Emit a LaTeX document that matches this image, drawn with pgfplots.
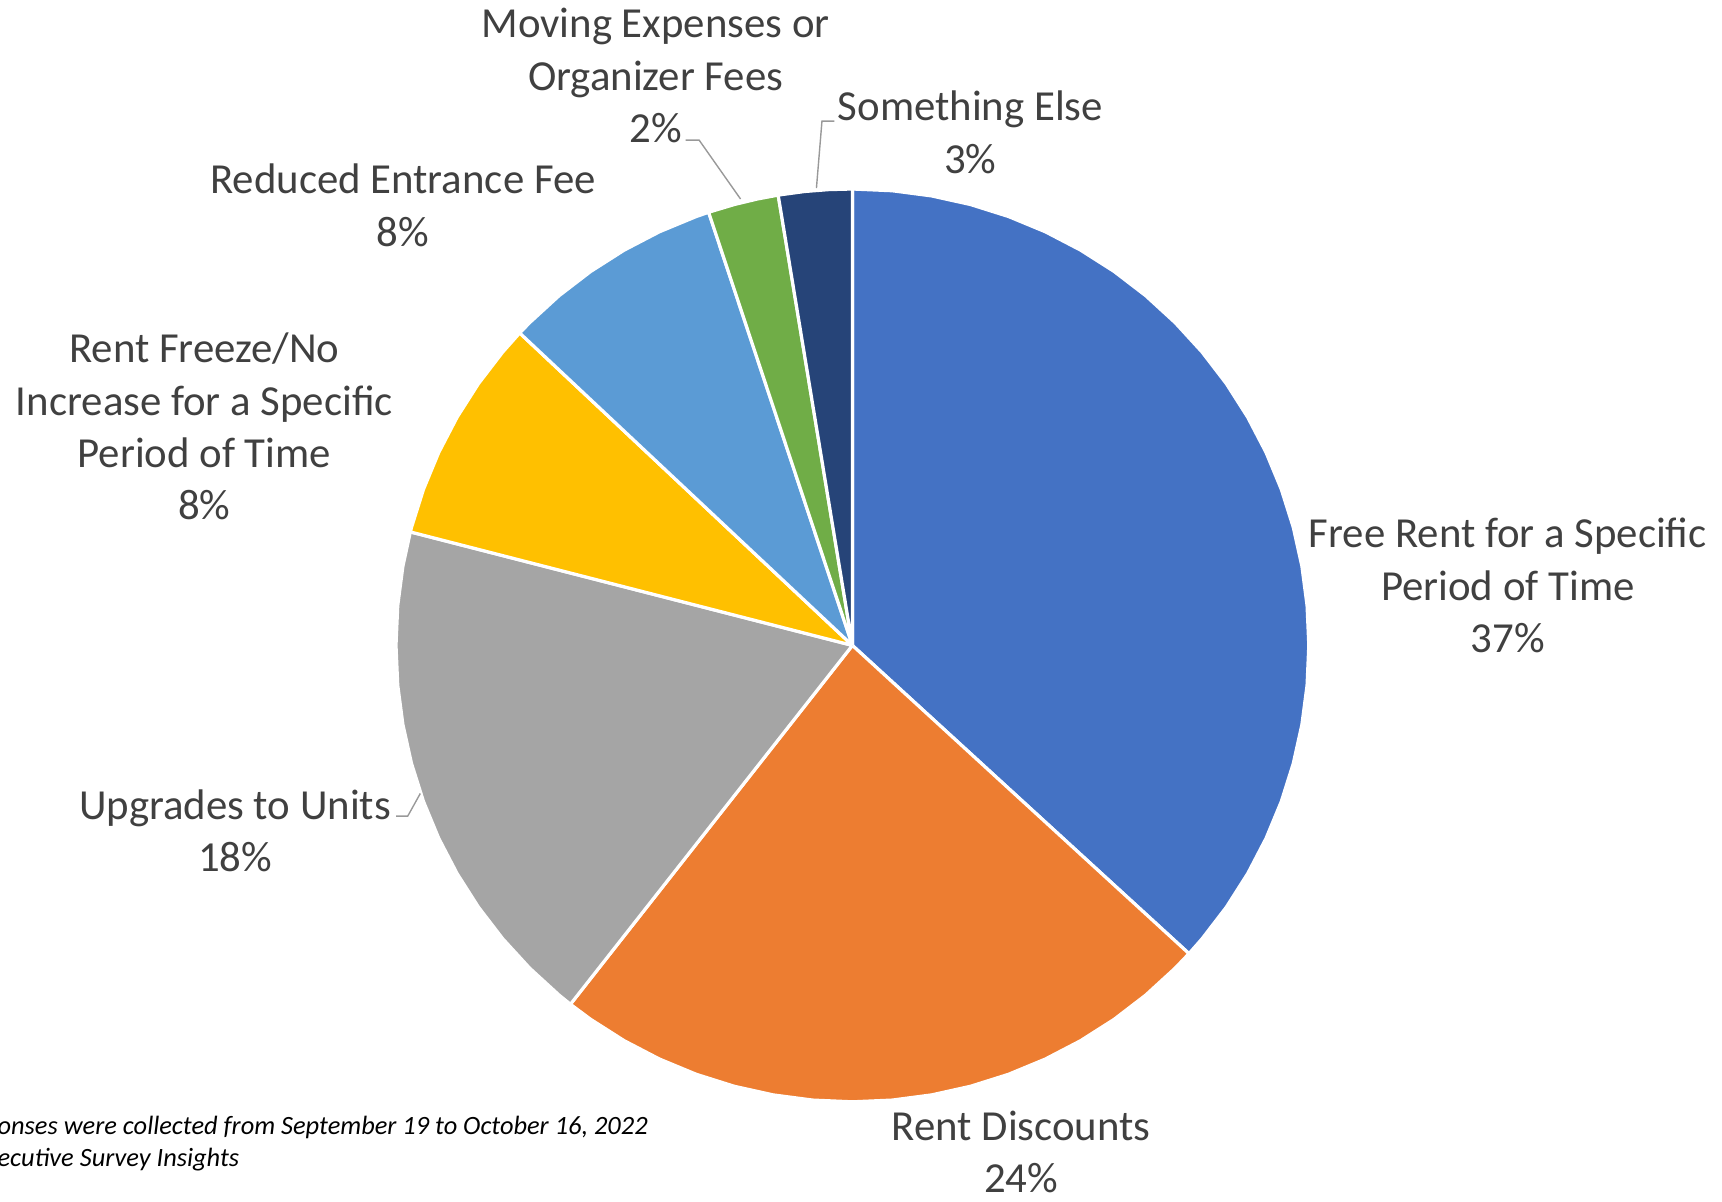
\documentclass[border=0pt]{standalone}
\usepackage{fontspec}
\setmainfont{Carlito}
\usepackage{pgfplots}
\pgfplotsset{compat=1.18}
\usepgfplotslibrary{polar}
\definecolor{cFree}{HTML}{4472C4}
\definecolor{cDisc}{HTML}{ED7D31}
\definecolor{cUpg}{HTML}{A5A5A5}
\definecolor{cFreeze}{HTML}{FFC000}
\definecolor{cRed}{HTML}{5B9BD5}
\definecolor{cMov}{HTML}{70AD47}
\definecolor{cElse}{HTML}{264478}
\definecolor{txt}{HTML}{404040}
\begin{document}
\begin{tikzpicture}
% Shares (%): Free Rent 36.8, Rent Discounts 23.8, Upgrades 18.4, Rent Freeze 8.0,
% Reduced Entrance Fee 7.9, Moving Expenses 2.5, Something Else 2.6
% slice outlines given as (angle in degrees, radius), clockwise from 90 degrees
\begin{polaraxis}[at={(213.1pt,138.9pt)}, anchor=center, hide axis,
  scale only axis, width=228.2pt, height=228.2pt, ymin=0, ymax=1,
  enlargelimits=false, clip=false]
\addplot[fill=cFree, draw=white, line width=0.8pt, line join=round] coordinates {
 (0,0) (-42.48,1) (-40,1) (-35,1) (-30,1) (-25,1) (-20,1) (-15,1) (-10,1) (-5,1)
 (0,1) (5,1) (10,1) (15,1) (20,1) (25,1) (30,1) (35,1) (40,1) (45,1) (50,1)
 (55,1) (60,1) (65,1) (70,1) (75,1) (80,1) (85,1) (90,1) (0,0)};
\addplot[fill=cDisc, draw=white, line width=0.8pt, line join=round] coordinates {
 (0,0) (-128.16,1) (-125,1) (-120,1) (-115,1) (-110,1) (-105,1) (-100,1) (-95,1)
 (-90,1) (-85,1) (-80,1) (-75,1) (-70,1) (-65,1) (-60,1) (-55,1) (-50,1) (-45,1)
 (-42.48,1) (0,0)};
\addplot[fill=cUpg, draw=white, line width=0.8pt, line join=round] coordinates {
 (0,0) (165.6,1) (170,1) (175,1) (180,1) (185,1) (190,1) (195,1) (200,1) (205,1)
 (210,1) (215,1) (220,1) (225,1) (230,1) (231.84,1) (0,0)};
\addplot[fill=cFreeze, draw=white, line width=0.8pt, line join=round] coordinates {
 (0,0) (136.8,1) (140,1) (145,1) (150,1) (155,1) (160,1) (165,1) (165.6,1) (0,0)};
\addplot[fill=cRed, draw=white, line width=0.8pt, line join=round] coordinates {
 (0,0) (108.36,1) (110,1) (115,1) (120,1) (125,1) (130,1) (135,1) (136.8,1) (0,0)};
\addplot[fill=cMov, draw=white, line width=0.8pt, line join=round] coordinates {
 (0,0) (99.36,1) (102,1) (105,1) (108.36,1) (0,0)};
\addplot[fill=cElse, draw=white, line width=0.8pt, line join=round] coordinates {
 (0,0) (90,1) (93,1) (96,1) (99.36,1) (0,0)};
% leader lines (cartesian, in units of the radius)
\addplot[data cs=cart, draw=gray!80, line width=0.35pt] coordinates {
 (-0.0394,1.1488) (-0.0667,1.1488) (-0.0788,1.0022)};
\addplot[data cs=cart, draw=gray!80, line width=0.35pt] coordinates {
 (-0.3654,1.1072) (-0.3359,1.1072) (-0.2451,0.9781)};
\addplot[data cs=cart, draw=gray!80, line width=0.35pt] coordinates {
 (-1.0000,-0.3742) (-0.9744,-0.3742) (-0.9468,-0.3245)};
\end{polaraxis}
\begin{scope}[every node/.style={align=center, inner sep=0pt, text=txt,
  font=\fontsize{10.7}{13.1}\selectfont}]
\node at (376.95pt,153.9pt) {Free Rent for a Specific\\Period of Time\\37\%};
\node at (255.3pt,12.2pt) {Rent Discounts\\24\%};
\node at (58.75pt,92.55pt) {Upgrades to Units\\18\%};
\node at (51.1pt,193.6pt) {Rent Freeze/No\\Increase for a Specific\\Period of Time\\8\%};
\node at (100.75pt,248.9pt) {Reduced Entrance Fee\\8\%};
\node at (163.9pt,281.3pt) {Moving Expenses or\\Organizer Fees\\2\%};
\node at (242.6pt,267.2pt) {Something Else\\3\%};
\end{scope}
\begin{scope}[every node/.style={inner sep=0pt, anchor=base west,
  font=\fontsize{6.6}{8}\selectfont\itshape}]
\node at (-0.8pt,16.7pt) {onses were collected from September 19 to October 16, 2022};
\node at (-0.8pt,8.7pt) {ecutive Survey Insights};
\end{scope}
\pgfresetboundingbox
\path[use as bounding box] (0,0) rectangle (430.5pt,300.25pt);
\end{tikzpicture}
\end{document}
